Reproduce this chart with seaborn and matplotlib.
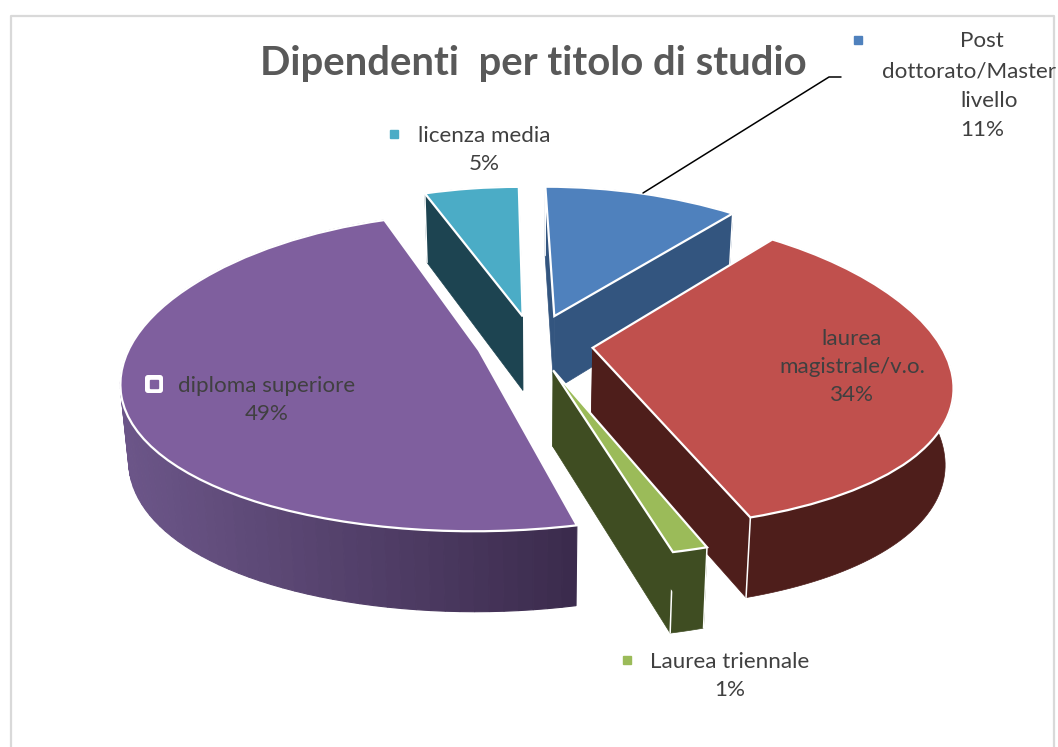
import numpy as np
import matplotlib
matplotlib.use("Agg")
import matplotlib.pyplot as plt
from matplotlib.patches import FancyBboxPatch, Rectangle
from matplotlib.transforms import Transform
import seaborn as sns

# dati
categories = ["Post dottorato/Master livello", "laurea magistrale/v.o.", "Laurea triennale",
              "diploma superiore", "licenza media"]
shares = [11, 34, 1.3, 48.5, 5.4]
explode = [0.19, 0.17, 0.18, 0.165, 0.18]
top_colors = ["#4f81bd", "#c0504d", "#9bbb59", "#7f5f9e", "#4bacc6"]
side_colors = ["#33557f", "#4e1e1b", "#3f4d22", "#3f2e54", "#1d4451"]
title = "Dipendenti  per titolo di studio"

# proiezione della torta 3D (pixel)
CX, CY = 534, 343
A, B, K, KX, SHEAR, DEPTH = 347, 154, 0.137, 0.2, 7, 75

sns.set_theme(style="white")
plt.rcParams["font.family"] = ["Lato", "DejaVu Sans"]


def project(x, y, z=0.0):
    x, y = np.asarray(x), np.asarray(y)
    px = (A * x - SHEAR * y) / (1 + KX * y) * (1 - 0.02 * z)
    return CX + px, CY - B * y / (1 + K * y) + DEPTH * z * (1 - 0.07 * y)


class Tilt(Transform):
    input_dims = 2
    output_dims = 2

    def transform_non_affine(self, xy):
        px, py = project(xy[:, 0], xy[:, 1])
        return np.column_stack([px, py])


def blend(c1, c2, t):
    c1, c2 = np.array(matplotlib.colors.to_rgb(c1)), np.array(matplotlib.colors.to_rgb(c2))
    return tuple(c1 + (c2 - c1) * t)


fig = plt.figure(figsize=(10.58, 7.47), dpi=100)
ax = fig.add_axes([0, 0, 1, 1])

wedges, _ = ax.pie(shares, explode=explode, colors=top_colors, startangle=90, counterclock=False,
                   wedgeprops=dict(edgecolor="white", linewidth=1.6))
ax.set_aspect("auto")
ax.set_xlim(0, 1058)
ax.set_ylim(747, 0)
ax.axis("off")

# ordine di disegno: dal fondo verso l'osservatore
order = [3, 4, 0, 1, 2]
tilt = Tilt() + ax.transData
for n, i in enumerate(order):
    w = wedges[i]
    x0, y0 = w.center
    z_base = 2 + n * 3

    # bordo esterno
    th = np.radians(np.linspace(w.theta1, w.theta2, 90))
    xs, ys = x0 + w.r * np.cos(th), y0 + w.r * np.sin(th)
    px_t, py_t = project(xs, ys)
    px_b, py_b = project(xs, ys, 1)
    if i == 3:
        # sfumatura sul lato del viola
        for j in range(len(th) - 1):
            t = np.clip((px_t[j] - 118) / (576 - 118), 0, 1)
            color = blend("#6c5689", "#3a2a4b", t)
            ax.fill([px_t[j], px_t[j + 1], px_b[j + 1], px_b[j]], [py_t[j], py_t[j + 1], py_b[j + 1], py_b[j]],
                    color=color, lw=0.8, zorder=z_base)
    else:
        ax.fill(np.r_[px_t, px_b[::-1]], np.r_[py_t, py_b[::-1]], color=side_colors[i], lw=0.5, zorder=z_base)

    # facce di taglio
    for theta in [w.theta1, w.theta2]:
        ex, ey = x0 + w.r * np.cos(np.radians(theta)), y0 + w.r * np.sin(np.radians(theta))
        px_t, py_t = project([x0, ex], [y0, ey])
        px_b, py_b = project([x0, ex], [y0, ey], 1)
        if i != 3:
            ax.fill([px_t[0], px_t[1], px_b[1], px_b[0]], [py_t[0], py_t[1], py_b[1], py_b[0]],
                    color=side_colors[i], lw=0.5, zorder=z_base + 1)
            ax.plot([px_t[1], px_b[1]], [py_t[1], py_b[1]], color="white", lw=1.1, zorder=z_base + 1)

    w.set_transform(tilt)
    w.set_clip_on(False)
    w.set_zorder(z_base + 2)

# cornice
ax.plot([11, 11, 1054, 1054], [747, 16, 16, 747], color="#d9d9d9", lw=1.6, zorder=1)

# titolo
ax.text(533, 63, title, fontsize=28.8, fontweight="bold", color="#595959", ha="center", va="center", zorder=40)

# etichette
TXT = "#404040"
FS = 16.1
for (x, y, s) in [(982, 41, "Post"), (969, 71, "dottorato/Master"), (989, 101, "livello"), (982, 130, "11%")]:
    ax.text(x, y, s, fontsize=FS, color=TXT, ha="center", va="center", zorder=40)
ax.text(484, 150, "licenza media\n5%", fontsize=FS, color=TXT, ha="center", va="center", linespacing=1.5, zorder=40)
ax.text(852, 367, "laurea\nmagistrale/v.o.\n34%", fontsize=FS, color=TXT, ha="center", va="center",
        linespacing=1.5, zorder=40)
ax.text(267, 400, "diploma superiore\n49%", fontsize=FS, color=TXT, ha="center", va="center", linespacing=1.5,
        zorder=40)
ax.text(730, 676, "Laurea triennale\n1%", fontsize=FS, color=TXT, ha="center", va="center", linespacing=1.5,
        zorder=40)

# quadratini di legenda
for (x, y, c) in [(858, 40, top_colors[0]), (394, 134, top_colors[4]), (627, 660, top_colors[2])]:
    ax.add_patch(Rectangle((x - 4, y - 4), 8, 8, color=c, zorder=40))
ax.add_patch(FancyBboxPatch((148, 378), 12, 12, boxstyle="round,pad=3,rounding_size=3", fc="white", ec="none", zorder=40))
ax.add_patch(Rectangle((150, 380), 8, 8, color=top_colors[3], zorder=41))

# linea guida
ax.plot([643, 829, 841], [193, 77, 77], color="black", lw=1.1, zorder=30)

fig.savefig("out.png", dpi=100)
